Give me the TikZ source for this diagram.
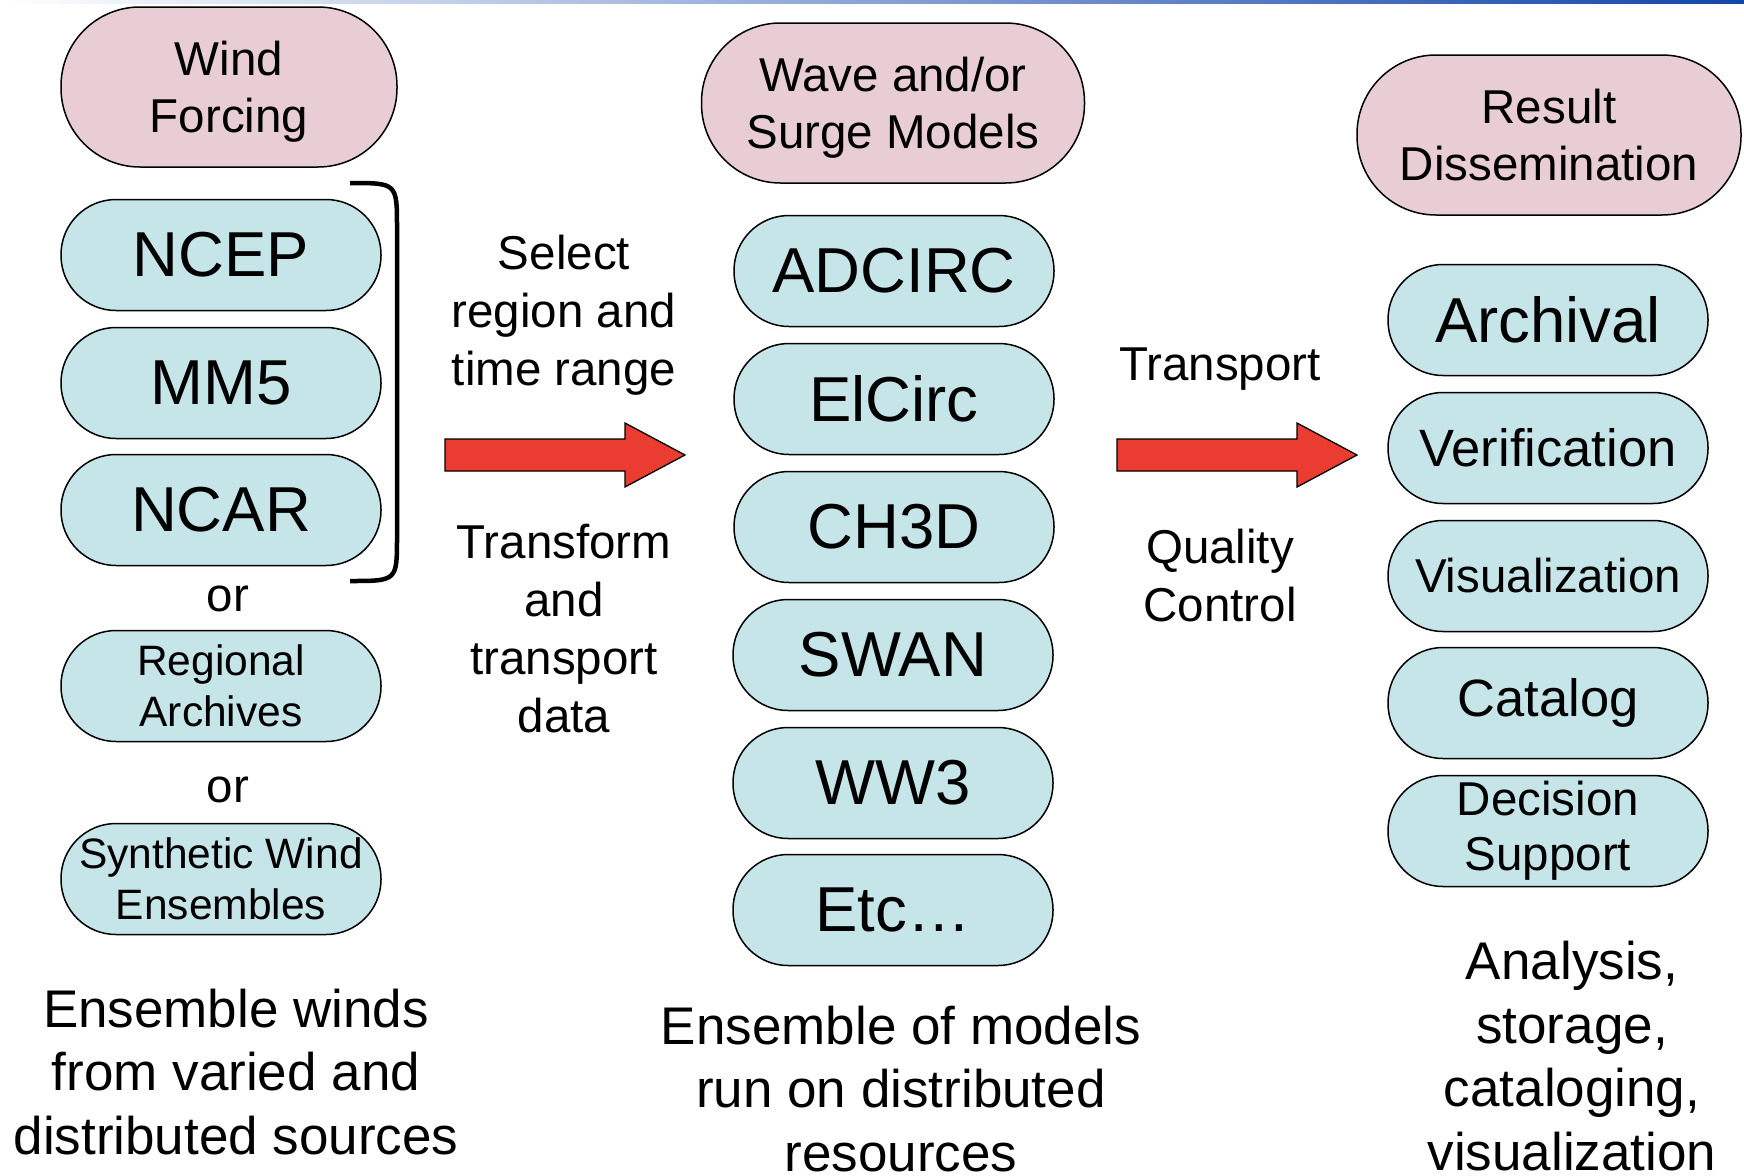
\documentclass[tikz,border=0pt]{standalone}
\usepackage{fontspec}
\setmainfont{Liberation Sans}
\definecolor{pinkc}{RGB}{233,205,213}
\definecolor{bluec}{RGB}{198,229,233}
\definecolor{redc}{RGB}{234,60,48}
\definecolor{stripc}{RGB}{20,70,170}
\tikzset{
  pinkbox/.style={draw, line width=1.5pt, fill=pinkc, rounded corners=79pt,
    minimum width=#1, minimum height=160pt, align=center, inner sep=0pt,
    font=\fontsize{47.5}{57}\selectfont},
  pinktext/.style={align=center, inner sep=0pt, font=\fontsize{47.5}{57}\selectfont},
  bluebox/.style={draw, line width=1.5pt, fill=bluec, rounded corners=55pt,
    minimum width=320pt, minimum height=111pt, align=center, inner sep=0pt},
  bigf/.style={font=\fontsize{63.5}{76}\selectfont},
  midf/.style={font=\fontsize{52.5}{60}\selectfont},
  smlf/.style={font=\fontsize{47.5}{55}\selectfont},
  tinyf/.style={font=\fontsize{42.5}{51}\selectfont},
  lbl/.style={align=center, inner sep=0pt, font=\fontsize{47.5}{58}\selectfont},
  bottomlbl/.style={align=center, inner sep=0pt, font=\fontsize{53}{63.5}\selectfont},
  blockarrow/.style={draw, line width=1.3pt, fill=redc},
}
\begin{document}
\begin{tikzpicture}[x=1pt,y=-1pt]
\useasboundingbox (0,0) rectangle (1744,1175);
\shade[left color=white, right color=stripc] (0,0) rectangle (1744,3);

% left column
\node[pinkbox=336pt] (wind) at (229,87) {};
\node[pinktext] (windtxt) at (229,91.5) {Wind\\Forcing};
\node[bluebox,bigf] (ncep) at (221,255) {NCEP};
\node[bluebox,bigf] (mm5) at (221,383) {MM5};
\node[bluebox,bigf] (ncar) at (221,510) {NCAR};
\node[lbl] (or1) at (228,599) {or};
\node[bluebox,tinyf] (regional) at (221,686) {Regional\\Archives};
\node[lbl] (or2) at (228,790) {or};
\node[bluebox,tinyf] (synth) at (221,879) {Synthetic Wind\ \\Ensembles};
\node[bottomlbl] (leftdesc) at (236,1072) {Ensemble winds\\from varied and\\distributed sources};
\draw[line width=4.5pt] (350,183) .. controls (397,183) .. (397,228) -- (397,537) .. controls (397,581) .. (350,581);

% first arrow and labels
\draw[blockarrow] (445,439) -- (625,439) -- (625,423) -- (685,455) -- (625,487) -- (625,471) -- (445,471) -- cycle;
\node[lbl] (select) at (564,315) {Select\\region and\\time range};
\node[lbl] (transform) at (564,629) {Transform\\and\\transport\\data};

% middle column
\node[pinkbox=383pt] (wave) at (893,103) {};
\node[pinktext] (wavetxt) at (893,107.5) {Wave and/or\\Surge Models};
\node[bluebox,bigf] (adcirc) at (894,271) {ADCIRC};
\node[bluebox,bigf] (elcirc) at (894,399) {ElCirc};
\node[bluebox,bigf] (ch3d) at (894,527) {CH3D};
\node[bluebox,bigf] (swan) at (893,655) {SWAN};
\node[bluebox,bigf] (ww3) at (893,783) {WW3};
\node[bluebox,bigf] (etc) at (893,910) {Etc…};
\node[bottomlbl] (middesc) at (901,1089) {Ensemble of models\\run on distributed\\resources};

% second arrow and labels
\draw[blockarrow] (1117,439) -- (1297,439) -- (1297,423) -- (1357,455) -- (1297,487) -- (1297,471) -- (1117,471) -- cycle;
\node[lbl] (transport) at (1220,369) {Transport};
\node[lbl] (quality) at (1220,576) {Quality\\Control};

% right column
\node[pinkbox=384pt] (result) at (1549,135) {Result\\Dissemination};
\node[bluebox,bigf] (archival) at (1548,320) {Archival};
\node[bluebox,midf] (verif) at (1548,448) {Verification};
\node[bluebox,smlf] (visual) at (1548,576) {Visualization};
\node[bluebox,midf] (catalog) at (1548,703) {Catalog};
\node[bluebox,smlf] (decision) at (1548,831) {Decision\\Support};
\node[bottomlbl] (rightdesc) at (1572,1056) {Analysis,\\storage,\\cataloging,\\visualization};
\end{tikzpicture}
\end{document}
